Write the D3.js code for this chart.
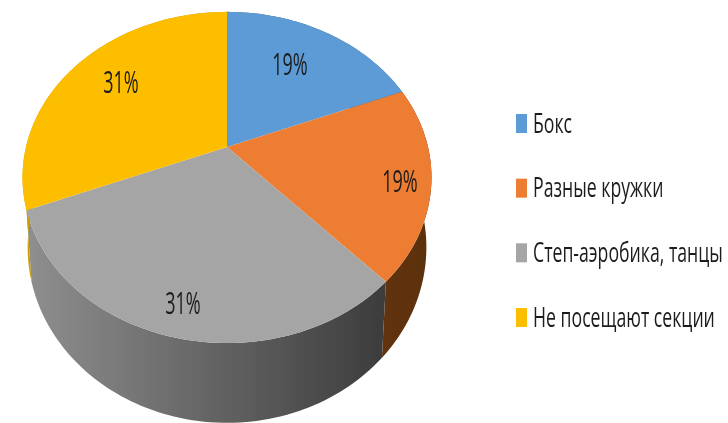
<!DOCTYPE html>
<meta charset="utf-8">
<style>
    html,body{margin:0;background:#fff;overflow:hidden}
</style>
<script src="https://d3js.org/d3.v7.min.js"></script>
<div id="chart"></div>
<script>
    const categories=["Бокс","Разные кружки","Степ-аэробика, танцы","Не посещают секции"];
    const values=[19,19,31,31];
    const valueLabels=["19%","19%","31%","31%"];
    const colors=["#5b9bd5","#ed7d31","#a5a5a5","#fdbe00"];

    const width=728,height=423;
    // pie is a flat disc seen in perspective, k is the foreshortening
    const cx=227,cy=147,rx=201,ry=160,k=0.184;
    const labelPos=[[290,64],[400,181],[183,303],[121,82]];

    const svg=d3.select("#chart")
        .append("svg")
            .attr("width",width)
            .attr("height",height)
            .style("display","block");

    const defs=svg.append("defs");
    defs.append("filter").attr("id","soft")
        .append("feGaussianBlur").attr("stdDeviation",0.45);

    function shade(id,x1,x2,from,to){
        const g=defs.append("linearGradient")
            .attr("id",id)
            .attr("gradientUnits","userSpaceOnUse")
            .attr("x1",x1).attr("x2",x2).attr("y1",0).attr("y2",0);
        g.append("stop").attr("offset",0).attr("stop-color",from);
        g.append("stop").attr("offset",1).attr("stop-color",to);
    }
    shade("side0",230,400,"#3a5d80","#3a5d80");
    shade("side1",381,431,"#633410","#5a2f10");
    shade("side2",30,381,"#8e8e8e","#3d3d3d");
    shade("side3",22,30,"#e3ab00","#c99a00");

    const slices=d3.pie().sort(null).value(d=>d)(values);

    function topPt(a){
        const u=Math.sin(a),v=-Math.cos(a),w=1-k*v;
        return [cx+rx*u/w,cy+ry*v/w];
    }
    function lowPt(a){
        const p=topPt(a);
        return [cx+(p[0]-cx)*0.975,cy+68+(p[1]-cy)*1.06];
    }
    function steps(d){
        const n=Math.ceil((d.endAngle-d.startAngle)*40);
        return d3.range(n+1).map(i=>d.startAngle+(d.endAngle-d.startAngle)*i/n);
    }
    const line=d3.line();

    const chart=svg.append("g").attr("filter","url(#soft)");

    // walls first, the top faces cover whatever is behind
    chart.selectAll("path.side")
        .data(slices)
        .join("path")
            .attr("class","side")
            .attr("d",d=>{
                const a=steps(d);
                return line(a.map(x=>topPt(x)).concat(a.slice().reverse().map(x=>lowPt(x))))+"Z";
            })
            .attr("fill",(d,i)=>`url(#side${i})`);

    chart.selectAll("path.face")
        .data(slices)
        .join("path")
            .attr("class","face")
            .attr("d",d=>line([[cx,cy]].concat(steps(d).map(x=>topPt(x))))+"Z")
            .attr("fill",(d,i)=>colors[i]);

    // text in the original is squeezed sideways
    chart.selectAll("text.val")
        .data(valueLabels)
        .join("text")
            .attr("class","val")
            .attr("transform",(d,i)=>`translate(${labelPos[i][0]},${labelPos[i][1]}) scale(0.58,1)`)
            .attr("text-anchor","middle")
            .attr("dy","0.36em")
            .attr("font-family","Open Sans")
            .attr("font-size",31)
            .attr("fill","#1c1c1c")
            .text(d=>d);

    const legendY=d3.scalePoint()
        .domain(categories)
        .range([123,317]);

    const legend=chart.selectAll("g.legend")
        .data(categories)
        .join("g")
            .attr("class","legend")
            .attr("transform",d=>`translate(516,${legendY(d)})`);
    legend.append("rect")
        .attr("y",-9)
        .attr("width",11)
        .attr("height",19)
        .attr("fill",(d,i)=>colors[i]);
    legend.append("text")
        .attr("transform","translate(17,0) scale(0.655,1)")
        .attr("dy","0.36em")
        .attr("font-family","Open Sans")
        .attr("font-size",27)
        .attr("fill","#1c1c1c")
        .text(d=>d);
</script>
